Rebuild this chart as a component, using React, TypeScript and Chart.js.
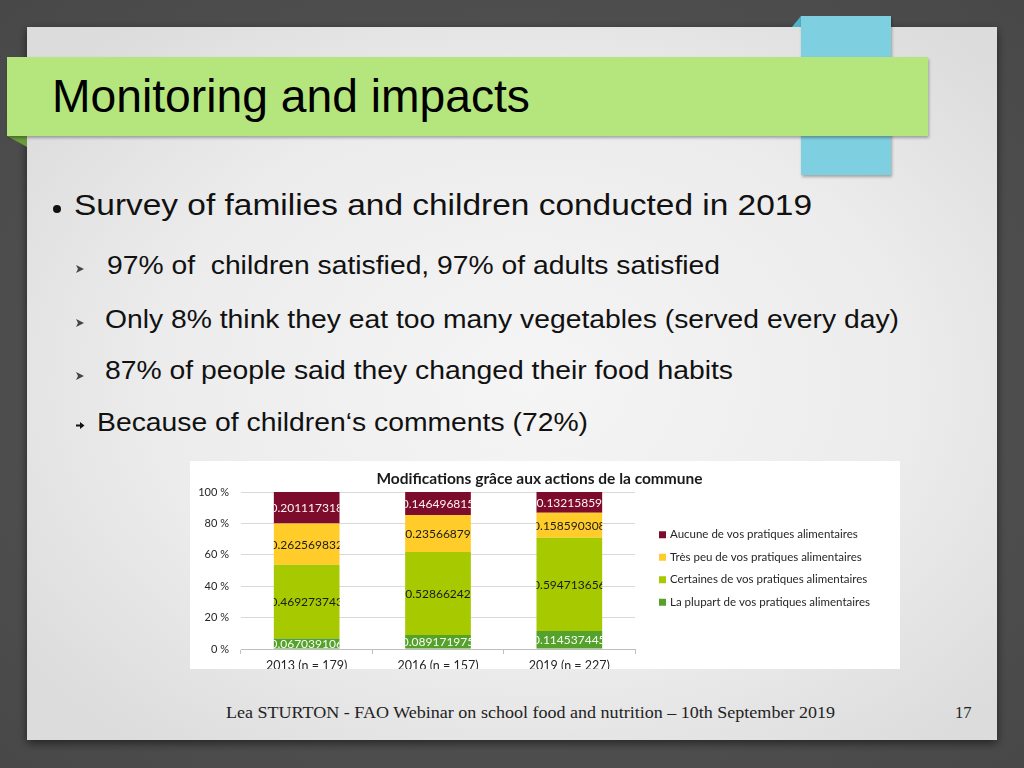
import React, { useEffect, useRef } from "react";
import { Chart, registerables } from "chart.js";

Chart.register(...registerables);

// ---------- data ----------
const categories = ["2013 (n = 179)", "2016 (n = 157)", "2019 (n = 227)"];
const seriesNames = [
  "La plupart de vos pratiques alimentaires",
  "Certaines de vos pratiques alimentaires",
  "Très peu de vos pratiques alimentaires",
  "Aucune de vos pratiques alimentaires",
];
const laPlupart = [0.067039106, 0.089171975, 0.114537445];
const certaines = [0.469273743, 0.52866242, 0.594713656];
const tresPeu = [0.262569832, 0.23566879, 0.158590308];
const aucune = [0.201117318, 0.146496815, 0.13215859];
const yTickValues = [0, 0.2, 0.4, 0.6, 0.8, 1];
const chartTitle = "Modifications grâce aux actions de la commune";

const seriesColors = ["#56a02c", "#a6c900", "#ffcc29", "#7d0b2c"];
const labelColors = ["#f4fff0", "#1a1a1a", "#1a1a1a", "#fff4f6"];

const FONT = "Lato, 'Open Sans', sans-serif";

const titlePlugin = {
  id: "customTitle",
  afterDraw(chart: any) {
    const ctx = chart.ctx;
    ctx.save();
    ctx.font = `bold 15.5px ${FONT}`;
    ctx.fillStyle = "#1a1a1a";
    ctx.textAlign = "center";
    ctx.textBaseline = "middle";
    ctx.fillText(chartTitle, 349.5, 18);
    ctx.restore();
  },
};

const dataLabelPlugin = {
  id: "dataLabels",
  afterDatasetsDraw(chart: any) {
    const ctx = chart.ctx;
    chart.data.datasets.forEach((ds: any, i: number) => {
      const meta = chart.getDatasetMeta(i);
      meta.data.forEach((bar: any, j: number) => {
        const { x, y, base, width } = bar.getProps(["x", "y", "base", "width"], true);
        const left = x - width / 2;
        const top = Math.min(y, base);
        const bottom = Math.max(y, base);
        ctx.save();
        ctx.beginPath();
        ctx.rect(left, top, width, bottom - top);
        ctx.clip();
        ctx.fillStyle = labelColors[i];
        ctx.font = `12px ${FONT}`;
        ctx.textAlign = "center";
        ctx.textBaseline = "middle";
        ctx.fillText(String(ds.data[j]), x, (top + bottom) / 2 + 0.5);
        ctx.restore();
      });
    });
  },
};

const legendPlugin = {
  id: "customLegend",
  afterDraw(chart: any) {
    const ctx = chart.ctx;
    const n = chart.data.datasets.length;
    const spacing = 22.5;
    const area = chart.chartArea;
    const center = (area.top + area.bottom) / 2 - 2;
    const startY = center - (spacing * (n - 1)) / 2;
    ctx.save();
    ctx.font = `11.5px ${FONT}`;
    ctx.textBaseline = "middle";
    ctx.textAlign = "left";
    for (let k = 0; k < n; k++) {
      const i = n - 1 - k;
      const ds = chart.data.datasets[i];
      const yc = startY + k * spacing;
      ctx.fillStyle = ds.backgroundColor;
      ctx.fillRect(area.right + 24, yc - 3.5, 7, 7);
      ctx.fillStyle = "#262626";
      ctx.fillText(ds.label, area.right + 35, yc);
    }
    ctx.restore();
  },
};

function BarChart() {
  const ref = useRef<HTMLCanvasElement | null>(null);
  useEffect(() => {
    if (!ref.current) return;
    const series = [laPlupart, certaines, tresPeu, aucune];
    const chart = new Chart(ref.current, {
      type: "bar",
      data: {
        labels: categories,
        datasets: series.map((d, i) => ({
          label: seriesNames[i],
          data: d,
          backgroundColor: seriesColors[i],
          borderWidth: 0,
          categoryPercentage: 1,
          barPercentage: 0.5,
        })),
      },
      options: {
        responsive: false,
        animation: false,
        layout: { padding: { top: 31, right: 265, left: 0, bottom: 0 } },
        plugins: {
          legend: { display: false },
          title: { display: false },
          tooltip: { enabled: false },
        },
        scales: {
          x: {
            stacked: true,
            offset: true,
            grid: {
              offset: true,
              drawOnChartArea: true,
              color: (c: any) => (c.index === 3 ? "#d9d9d9" : "rgba(0,0,0,0)"),
              tickColor: "#bfbfbf",
              tickLength: 5,
            },
            border: { color: "#bfbfbf" },
            ticks: { color: "#262626", font: { family: FONT, size: 12.5 }, padding: 4 },
            afterFit: (s: any) => {
              s.height = 32;
            },
          },
          y: {
            stacked: true,
            min: 0,
            max: 1,
            afterBuildTicks: (s: any) => {
              s.ticks = yTickValues.map((v) => ({ value: v }));
            },
            grid: { color: "#d9d9d9", drawTicks: false },
            border: { display: false },
            ticks: {
              color: "#262626",
              font: { family: FONT, size: 11 },
              padding: 12,
              callback: (v: any) => `${Math.round(Number(v) * 100)} %`,
            },
            afterFit: (s: any) => {
              s.width = 51;
            },
          },
        },
      },
      plugins: [dataLabelPlugin, titlePlugin, legendPlugin],
    } as any);
    return () => chart.destroy();
  }, []);
  return <canvas ref={ref} width={710} height={220} style={{ display: "block" }} />;
}

const SANS = "'Liberation Sans', Arial, sans-serif";
const SERIF = "'Liberation Serif', 'Times New Roman', serif";

function arrowHead(cx: number, cy: number) {
  return `M ${cx - 4} ${cy - 4} L ${cx + 4} ${cy} L ${cx - 4} ${cy + 4} L ${cx - 2} ${cy} Z`;
}

export default function App() {
  return (
    <div
      style={{
        position: "absolute",
        left: 0,
        top: 0,
        width: 1024,
        height: 768,
        overflow: "hidden",
        background: "#505050",
      }}
    >
      <svg width={1024} height={768} style={{ position: "absolute", left: 0, top: 0 }}>
        <defs>
          <radialGradient id="bgg" cx="50%" cy="50%" r="75%">
            <stop offset="0" stopColor="#5a5a5a" />
            <stop offset="1" stopColor="#474747" />
          </radialGradient>
          <radialGradient id="slideg" cx="52%" cy="50%" r="65%">
            <stop offset="0" stopColor="#f5f5f5" />
            <stop offset="0.6" stopColor="#ececec" />
            <stop offset="1" stopColor="#dcdcdc" />
          </radialGradient>
          <filter id="sh" x="-10%" y="-10%" width="120%" height="130%">
            <feDropShadow dx="0" dy="3" stdDeviation="5" floodColor="#000" floodOpacity="0.55" />
          </filter>
          <filter id="sh2" x="-5%" y="-20%" width="110%" height="150%">
            <feDropShadow dx="1" dy="2" stdDeviation="1.5" floodColor="#000" floodOpacity="0.3" />
          </filter>
        </defs>
        <rect x={0} y={0} width={1024} height={768} fill="url(#bgg)" />
        <rect x={27} y={27} width={970} height={713} fill="url(#slideg)" filter="url(#sh)" />
        {/* blue ribbon */}
        <polygon points="792,27 801,16 801,27" fill="#4fb4c8" />
        <rect x={801} y={16} width={90} height={159} fill="#7ecfe0" filter="url(#sh2)" />
        {/* green title band */}
        <polygon points="7,136 27,136 27,147" fill="#6b9a3c" />
        <rect x={7} y={57} width={921} height={79} fill="#b4e67d" filter="url(#sh2)" />
        <text x={52} y={112} fontFamily={SANS} fontSize={46} fill="#000" textLength={478} lengthAdjust="spacingAndGlyphs">
          Monitoring and impacts
        </text>
        {/* bullets */}
        <circle cx={57} cy={209} r={4} fill="#111" />
        <text x={74} y={215} fontFamily={SANS} fontSize={30} fill="#111" textLength={738} lengthAdjust="spacingAndGlyphs">
          Survey of families and children conducted in 2019
        </text>
        <path d={arrowHead(80, 269)} fill="#444" />
        <text x={107} y={274} fontFamily={SANS} fontSize={25.5} fill="#111" textLength={613} lengthAdjust="spacingAndGlyphs" style={{ whiteSpace: "pre" }}>
          {"97% of  children satisfied, 97% of adults satisfied"}
        </text>
        <path d={arrowHead(80, 323)} fill="#444" />
        <text x={105} y={328} fontFamily={SANS} fontSize={25.5} fill="#111" textLength={794} lengthAdjust="spacingAndGlyphs">
          Only 8% think they eat too many vegetables (served every day)
        </text>
        <path d={arrowHead(80, 376)} fill="#444" />
        <text x={105} y={379} fontFamily={SANS} fontSize={25.5} fill="#111" textLength={628} lengthAdjust="spacingAndGlyphs">
          87% of people said they changed their food habits
        </text>
        <path d="M 76 424.5 L 80 424.5 L 80 422 L 84.5 425.5 L 80 429 L 80 426.5 L 76 426.5 Z" fill="#111" />
        <text x={97} y={431} fontFamily={SANS} fontSize={25.5} fill="#111" textLength={491} lengthAdjust="spacingAndGlyphs">
          Because of children‘s comments (72%)
        </text>
        {/* footer */}
        <text x={226} y={718} fontFamily={SERIF} fontSize={16.5} fill="#222" textLength={609} lengthAdjust="spacingAndGlyphs">
          Lea STURTON - FAO Webinar on school food and nutrition – 10th September 2019
        </text>
        <text x={955} y={718} fontFamily={SERIF} fontSize={16.5} fill="#222">
          17
        </text>
      </svg>
      <div
        style={{
          position: "absolute",
          left: 190,
          top: 461,
          width: 710,
          height: 208,
          overflow: "hidden",
          background: "#ffffff",
        }}
      >
        <BarChart />
      </div>
    </div>
  );
}
